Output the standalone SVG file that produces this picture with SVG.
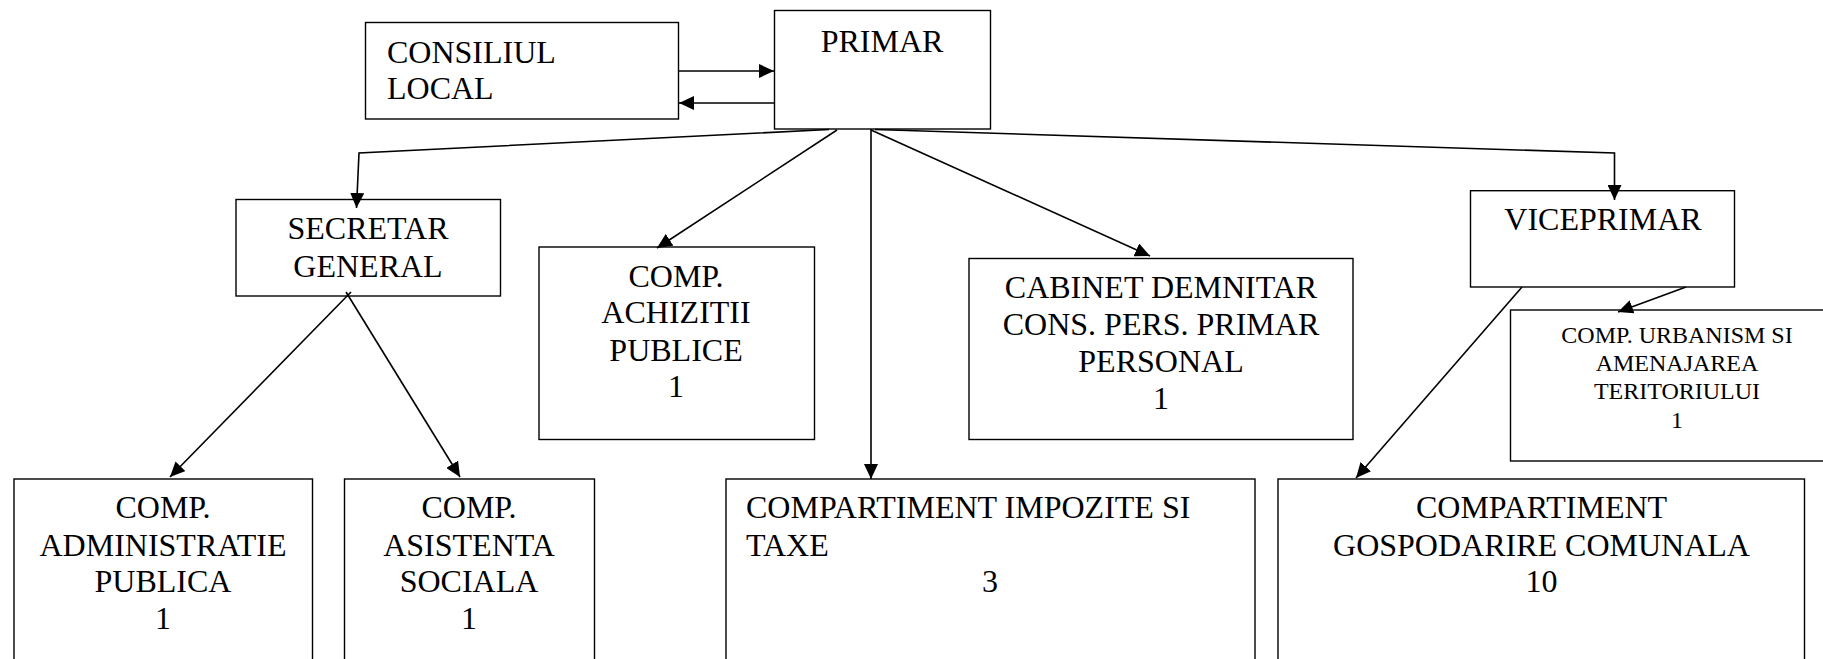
<svg xmlns="http://www.w3.org/2000/svg" width="1823" height="659" viewBox="0 0 1823 659">
<defs>
<marker id="ah" markerUnits="userSpaceOnUse" markerWidth="16" markerHeight="14" refX="15" refY="7" orient="auto">
<path d="M0,0 L15,7 L0,14 z" fill="#000"/>
</marker>
<style>
.box{fill:#fff;stroke:#000;stroke-width:1.4}
.t{font-family:"Liberation Serif","Times New Roman",serif;font-size:32px;fill:#000}
.s{font-family:"Liberation Serif","Times New Roman",serif;font-size:24px;fill:#000}
.c{text-anchor:middle}
.ln{fill:none;stroke:#000;stroke-width:1.6;marker-end:url(#ah)}
</style>
</defs>
<rect width="1823" height="659" fill="#fff"/>
<g id="consiliul">
<rect class="box" x="365.5" y="22.5" width="313" height="96.5"/>
<text class="t" x="387" y="62.7">CONSILIUL</text>
<text class="t" x="387" y="99.3">LOCAL</text>
</g>
<g id="primar">
<rect class="box" x="774.5" y="10.5" width="216" height="118.5"/>
<text class="t c" x="882" y="51.7">PRIMAR</text>
</g>
<g id="secretar">
<rect class="box" x="236" y="199.5" width="264.5" height="96.5"/>
<text class="t c" x="368" y="239.3">SECRETAR</text>
<text class="t c" x="368" y="276.7">GENERAL</text>
</g>
<g id="achizitii">
<rect class="box" x="539" y="247" width="275.5" height="192.5"/>
<text class="t c" x="676" y="286.7">COMP.</text>
<text class="t c" x="676" y="323.3">ACHIZITII</text>
<text class="t c" x="676" y="360.7">PUBLICE</text>
<text class="t c" x="676" y="397.3">1</text>
</g>
<g id="cabinet">
<rect class="box" x="969" y="258.5" width="384" height="181"/>
<text class="t c" x="1161" y="298.3">CABINET DEMNITAR</text>
<text class="t c" x="1161" y="335.3">CONS. PERS. PRIMAR</text>
<text class="t c" x="1161" y="372.3">PERSONAL</text>
<text class="t c" x="1161" y="409">1</text>
</g>
<g id="viceprimar">
<rect class="box" x="1470.5" y="190.7" width="264" height="96.3"/>
<text class="t c" x="1603" y="230">VICEPRIMAR</text>
</g>
<g id="urbanism">
<rect class="box" x="1510.5" y="310" width="330" height="151"/>
<text class="s c" x="1677" y="342.5">COMP. URBANISM SI</text>
<text class="s c" x="1677" y="370.7">AMENAJAREA</text>
<text class="s c" x="1677" y="398.7">TERITORIULUI</text>
<text class="s c" x="1677" y="427.7">1</text>
</g>
<g id="administratie">
<rect class="box" x="14" y="479" width="298.5" height="220"/>
<text class="t c" x="163" y="518.3">COMP.</text>
<text class="t c" x="163" y="555.7">ADMINISTRATIE</text>
<text class="t c" x="163" y="592.3">PUBLICA</text>
<text class="t c" x="163" y="629">1</text>
</g>
<g id="asistenta">
<rect class="box" x="344.5" y="479" width="250" height="220"/>
<text class="t c" x="469" y="518.3">COMP.</text>
<text class="t c" x="469" y="555.7">ASISTENTA</text>
<text class="t c" x="469" y="592.3">SOCIALA</text>
<text class="t c" x="469" y="629">1</text>
</g>
<g id="impozite">
<rect class="box" x="726" y="479" width="529" height="220"/>
<text class="t" x="746" y="518.3">COMPARTIMENT IMPOZITE SI</text>
<text class="t" x="746" y="555.7">TAXE</text>
<text class="t c" x="990" y="592.3">3</text>
</g>
<g id="gospodarire">
<rect class="box" x="1278" y="479" width="526.5" height="220"/>
<text class="t c" x="1541.5" y="518.3">COMPARTIMENT</text>
<text class="t c" x="1541.5" y="555.7">GOSPODARIRE COMUNALA</text>
<text class="t c" x="1541.5" y="592.3">10</text>
</g>
<g id="connectors">
<path class="ln" d="M679,71 L774,71"/>
<path class="ln" d="M774,103 L679,103"/>
<path class="ln" d="M829,129.5 L359,153 L356.5,208"/>
<path class="ln" d="M837,130 L657,248"/>
<path class="ln" d="M871,129 L871,479"/>
<path class="ln" d="M871,130 L1150,256"/>
<path class="ln" d="M875,129.5 L1614.5,153 L1614.5,200"/>
<path class="ln" d="M351,292 L170,477"/>
<path class="ln" d="M346,292 L460,477"/>
<path class="ln" d="M1686,287 L1618,312"/>
<path class="ln" d="M1522,287 L1356,478"/>
</g>
</svg>
